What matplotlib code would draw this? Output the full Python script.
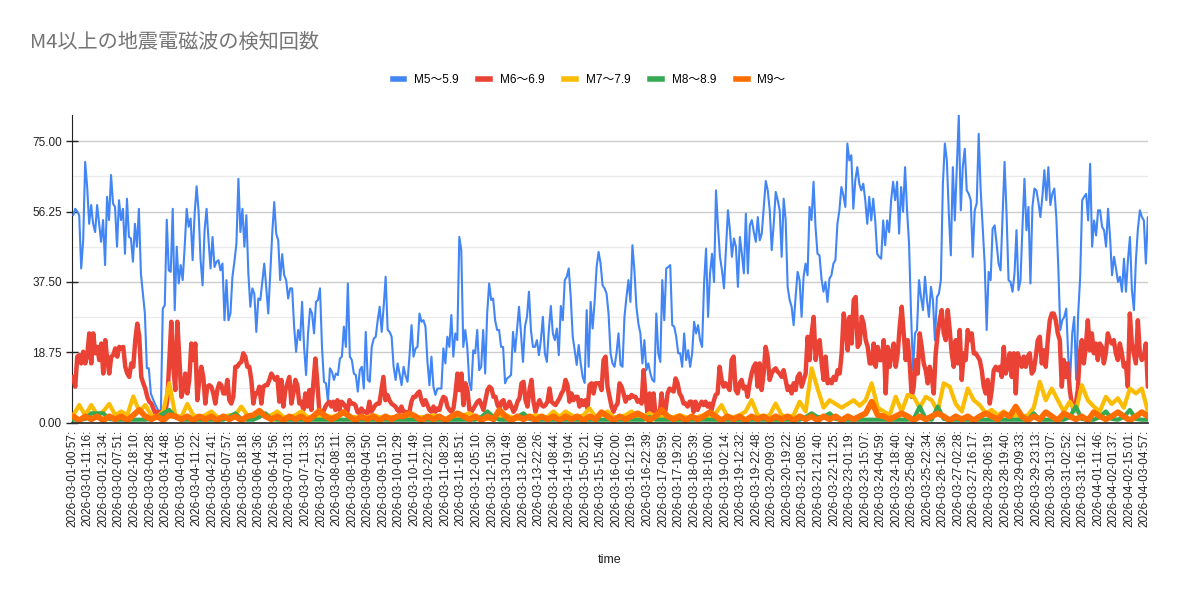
import numpy as np
import matplotlib
matplotlib.use("Agg")
from matplotlib import pyplot as plt
from matplotlib.lines import Line2D
from matplotlib.ticker import MultipleLocator

# x軸ラベル（Google チャート上の表示のまま）
time_labels = [
    "2026-03-01-00:57:", "2026-03-01-11:16:", "2026-03-01-21:34:", "2026-03-02-07:51:",
    "2026-03-02-18:10:", "2026-03-03-04:28:", "2026-03-03-14:48:", "2026-03-04-01:05:",
    "2026-03-04-11:22:", "2026-03-04-21:41:", "2026-03-05-07:57:", "2026-03-05-18:18:",
    "2026-03-06-04:36:", "2026-03-06-14:56:", "2026-03-07-01:13:", "2026-03-07-11:33:",
    "2026-03-07-21:53:", "2026-03-08-08:11:", "2026-03-08-18:30:", "2026-03-09-04:50:",
    "2026-03-09-15:10:", "2026-03-10-01:29:", "2026-03-10-11:49:", "2026-03-10-22:10:",
    "2026-03-11-08:29:", "2026-03-11-18:51:", "2026-03-12-05:10:", "2026-03-12-15:30:",
    "2026-03-13-01:49:", "2026-03-13-12:08:", "2026-03-13-22:26:", "2026-03-14-08:44:",
    "2026-03-14-19:04:", "2026-03-15-05:21:", "2026-03-15-15:40:", "2026-03-16-02:00:",
    "2026-03-16-12:19:", "2026-03-16-22:39:", "2026-03-17-08:59:", "2026-03-17-19:20:",
    "2026-03-18-05:39:", "2026-03-18-16:00:", "2026-03-19-02:14:", "2026-03-19-12:32:",
    "2026-03-19-22:48:", "2026-03-20-09:03:", "2026-03-20-19:22:", "2026-03-21-08:05:",
    "2026-03-21-21:40:", "2026-03-22-11:25:", "2026-03-23-01:19:", "2026-03-23-15:07:",
    "2026-03-24-04:59:", "2026-03-24-18:40:", "2026-03-25-08:42:", "2026-03-25-22:34:",
    "2026-03-26-12:36:", "2026-03-27-02:28:", "2026-03-27-16:17:", "2026-03-28-06:19:",
    "2026-03-28-19:40:", "2026-03-29-09:33:", "2026-03-29-23:13:", "2026-03-30-13:07:",
    "2026-03-31-02:52:", "2026-03-31-16:12:", "2026-04-01-11:46:", "2026-04-02-01:37:",
    "2026-04-02-15:01:", "2026-04-03-04:57:",
]

series_names = ["M5〜5.9", "M6〜6.9", "M7〜7.9", "M8〜8.9", "M9〜"]

m5 = [
    55.3, 57, 56.3, 55.3, 41.1, 48.6, 69.5, 62.8, 53, 58,
    53, 50.8, 58, 53, 48.2, 54, 42, 60.2, 54, 66,
    58.4, 57.5, 46.9, 59.3, 54, 57, 45, 59.7, 49.5, 49.1,
    42.9, 53, 46.9, 57, 39.8, 34.5, 29.1, 14.5, 14.5, 7.8, 6.4, 5.1, 4, 2.9, 2,
    30.4, 31.3, 54.1, 40.6, 40.2, 57, 30, 46.9,
    37.1, 42, 38, 46.9, 57, 52.2, 54.4, 43.3, 55.7, 63,
    56.2, 43.3, 36.6, 51.3, 57, 48.6, 41.1, 49.5, 41.5, 42.9,
    43.3, 40.6, 42.4, 27.3, 38, 27.3, 29.1, 38.9, 43, 47.7, 65,
    50.8, 57, 46.9, 55.3, 39.8, 30.9, 35.8, 34.4, 24.2, 33.1,
    32.7, 37.5, 42.4, 36, 29.1, 40, 50.4, 58.8, 50.4, 48.6, 38, 44.9, 39.3,
    38, 33.1, 35.8, 35.8, 25.6, 18.9, 24.7, 22, 32.2, 20.2,
    12.7, 23.8, 30.4, 29.1, 23.8, 32.2, 32.7, 35.8, 20.2, 10.9,
    10.5, 5.6, 14.5, 13.6, 11.4, 13.1, 12.7, 17.1,
    17.6, 25.6, 20.2, 37.1, 17.6, 16.7, 13.1, 12.7, 8.3, 14,
    14.9, 9.1, 24.2, 11.4, 10.9, 20.2, 22.4, 22.9, 27.3, 30.9,
    24.2, 31, 38.9, 24.7, 24.2, 22.9, 14.9, 11.4, 15.8, 13, 10, 14.9, 12.5, 10.9, 18,
    26, 17.6, 19.8, 20.2, 29.1, 26.9, 27.3, 25.6, 16.2,
    10, 17.6, 9.6, 7.4, 9.1, 9.1, 9.1, 19.8, 15.8, 22.9, 20.2,
    28.7, 17.6, 23.8, 22, 49.5, 46, 20.2, 24.7, 20.2, 10.9,
    8.7, 19.3, 18.5, 24.7, 14, 14.9, 24.7, 13.1, 29.1, 37.1,
    32.7, 33.1, 27.3, 24.7, 24.7, 20.2, 20.2, 10.5, 11.8, 12.2,
    12.7, 24.2, 18.9, 24.7, 30.9, 23.8, 16.2, 25.6, 28.2, 34.9,
    24.7, 20.2, 20.2, 22, 18, 22, 28.2, 18.5, 16.2, 24.7,
    31.1, 23.8, 22, 25.1, 18, 31.1, 27.3, 38, 38.9, 41.1,
    33.5, 22.9, 19.3, 15.4, 20.7, 15.8, 12.2, 10.6, 30, 14.9,
    32.2, 25.1, 32.2, 41.5, 45.5, 42.4,
    36.6, 35.8, 34.4, 29.1, 18.5, 15.8, 14.9, 18.5, 23.8, 15.4,
    14.9, 28.2, 33.5, 38, 32.2, 47.3, 40.6,
    30.9, 26.4, 23.8, 15.8, 22, 14, 15.8, 13.1, 11.4, 10.9,
    29.1, 18.5, 16.2, 38, 27.3, 41.1, 41.5, 42, 26, 25.6,
    22.9, 18.5, 18.5, 14.9, 23.8, 16.7, 19.3, 14.9,
    18.5, 26.9, 23.8, 26, 22, 20.2, 37.1, 46.4, 28.2, 39.8,
    45, 37.5, 61.9, 52.2, 44.2, 40.6, 35.8, 46, 56.6, 51.3,
    44.2, 49.1, 46.9, 36.2, 49.5, 45, 39.8, 55.7, 39.8, 52.6,
    54, 50.8, 48.2, 54.8, 48.6, 50.4, 57.5, 64.4, 61.9, 56.6,
    46, 53, 61.5, 59.3, 56.6, 44.2, 59.7, 54, 36.2, 32.7,
    30.9, 26, 33.5, 40.2, 38, 28.2, 38.9, 42.4, 39.3, 57.5,
    54, 64.2, 52.2, 45, 44.6, 38.4, 34.9, 37.5, 32.2, 38.4,
    39.3, 42.4, 43.3, 53, 56.6, 62.8, 60.6, 57.5, 74.4,
    69.9, 71.3, 57, 64.6, 68.1, 63.7, 61.9, 63.7, 59.3, 53,
    60.2,
    53.9, 59.7, 53.9, 45, 44.2, 43.7, 53.9, 47.3, 53.9, 50.8,
    59.3, 64.2, 59.3, 64.2, 50.4, 62.8, 56.2, 68.1, 56.6,
    47.7, 29.1, 14, 23.8, 24.7, 38, 33.5, 30, 38.9, 32.7,
    28.2, 36.2, 32.7, 22, 33.5, 34.4, 38, 63.7, 74.4, 69.9,
    55.7, 44.6, 68.1, 53.9, 68.1, 81.9, 56.6, 68.1, 73, 61.9,
    61, 59.3, 44.2, 56.6, 58.4, 77, 61.9, 52.2, 42.4,
    24.7, 40.2, 38, 51.7, 52.6, 47.7, 42.4, 40.6, 54.8,
    69.5, 55.7, 38, 37.5, 34.9, 39.8, 51.3, 35.3, 38, 52.2,
    65, 51.3, 57.5, 37.1, 57.5, 62.4, 61.9, 58.8, 54.8,
    60.2, 67.3, 59.3, 68.1, 58, 61, 62.4, 54.8, 41.5, 24.7,
    27.3, 28.2, 30.4, 17.6, 12.2, 23.8, 28.2, 11.4, 29.1, 38.9,
    59.3, 60.2, 61, 53.9, 69, 46.9, 53.9, 49.9, 56.6,
    56.6, 52.2, 51.3, 46.9, 57, 49.5, 39.3, 44.2, 41.1, 37.5,
    38.9, 34.9, 43.7, 34.9, 43.3, 49.5, 35.3, 30, 43.3, 51.7,
    56.6, 54.8, 53.9, 42.4, 54.8,
]

m6 = [
    12.2, 9.6, 17.6, 18, 15.8, 18.9, 15.8, 18, 23.8, 15.8,
    23.8, 18.5, 20.2, 16.7, 21.1, 13.1, 22, 16.7, 13.1, 17.6,
    18, 19.8, 17.6, 20.2, 19.8, 20.2, 14.9, 13.1, 12.2, 15.8,
    14.9, 22, 26.4, 22.9, 12.2, 10.5, 9.1, 6.9, 5.6, 5.1,
    3.8, 2.5, 2.9, 2.9, 2, 2, 2.9, 6, 16.7, 26.9,
    14.9, 8.7, 26.9, 17.6, 6.9, 8.7, 13.1, 7.8, 11.4, 21.1,
    16.7, 21.1, 6, 11.4, 14.9, 12.2, 5.1, 9.6, 10, 9.6,
    7.8, 5.1, 8.7, 10.5, 10, 7.8, 7.8, 11.4, 6, 5.1,
    6.9, 14.9, 14.9, 15.8, 16.2, 18.5, 17.6, 14.9, 14.9, 11.4,
    5.1, 7.8, 7.8, 9.6, 5.1, 9.6, 10, 10, 11.4, 13.1,
    12.2, 11.4, 12.2, 5.6, 11.4, 4.3, 8.7, 10.5, 12.2, 5.1,
    7.8, 11.4, 10, 5.1, 5.6, 3.4, 7.8, 4.3, 8.7, 3.4,
    10.5, 17.1, 10.5, 2.9, 2, 2.9, 4.3, 5.1, 5.6,
    4.3, 5.6, 3.4, 6, 3.4, 5.6, 5.1, 4.3, 2.9, 6,
    5.1, 5.1, 4.7, 2.9, 2.5, 3.8, 2.9, 2.9, 2.5, 5.6,
    2.9, 3.8, 4.7, 5.1, 5.1, 8.7, 12.2, 6, 7.4, 6,
    5.1, 4.7, 4.3, 3.4, 2.9, 4.3, 2.9, 2.9, 2.5, 2.9,
    5.6, 6.9, 6.9, 7.8, 8.3, 6, 4.7, 6, 4.7, 3.4,
    2.9, 4.3, 2.9, 3.8, 3.4, 5.6, 6.9, 6.5, 4.3, 3.4,
    2.9, 3.8, 7.8, 13.1, 8.7, 13.1, 4.7, 10.5, 8.7, 3.4,
    2.9, 3.8, 4.7, 5.6, 6, 4.7, 3.4, 6, 8.7, 9.6,
    9.1, 6.9, 6.9, 4.7, 3.8, 5.6, 6, 3.8, 4.3, 5.6,
    4.3, 2.9, 3.8, 5.6, 6.5, 10.5, 10.9, 6, 4.3, 8.7,
    11.4, 5.6, 2.9, 4.7, 6, 4.7, 4.3, 4.7, 5.6, 9.1,
    5.6, 5.1, 4.7, 5.6, 6.5, 7.8, 8.7, 11.4, 10, 5.6,
    7.8, 6, 6.9, 6.9, 4.3, 6, 4.7, 6, 3.8, 10,
    10.5, 7.8, 10.5, 10.5, 10.5,
    8.7, 16.7, 17.6, 9.6, 6.9, 4.3, 2.9, 4.3, 5.1, 10.5,
    9.6, 7.8, 5.6, 6.9, 6.5, 7.4, 6.9, 6.9, 5.6, 6,
    5.1, 14, 6.9, 2.5, 7.8, 2.5, 7.8, 2, 2.9, 2,
    7.8, 2.5, 3.4, 7.8, 9.1, 8.7, 8.3, 11.8, 10.5, 7.8,
    6.9, 5.1, 5.1, 4.3, 5.6, 5.6, 2.9, 5.6, 3.4, 4.7,
    5.6, 4.7, 5.6, 4.3, 5.1, 3.4, 5.6, 7.4, 7.8, 14.9,
    11.4, 9.6, 10.5, 9.6, 8.7, 16.7, 17.6, 8.7, 7.8, 10.5,
    11.4, 9.1, 9.6, 6.9, 10.5, 13.1, 14.9, 15.8, 9.6, 15.8,
    8.7, 13.1, 20.2, 17.6, 11.4, 13.1, 14, 14.5, 13.6, 13.1,
    12.2, 14, 11.4, 8.7, 9.6, 7.8, 10.5, 8.7, 12.2, 13.1,
    9.6, 11.4, 13.1, 22.9, 16.7, 23.8, 28.2, 16.7, 21.1, 22,
    15.8, 11.4, 17.6, 10.5, 11.4, 10.5, 12.2, 11.4, 14, 13.1,
    18.5, 29.1, 25.6, 19.3, 28.2, 21.1, 32.7, 33.5, 20.2, 21.1,
    28.2, 26.4, 22, 20.2, 15.8,
    15.8, 21.1, 14.9, 20.2, 16.7, 16.7, 22, 7.8, 20.2, 14.9,
    18.5, 21.1, 14.9, 18.5, 25.6, 30.9, 23.8, 16.7, 22, 15.8,
    6.9, 9.6, 16.7, 13.1, 23.8, 20.2, 15.8, 14, 10.5, 14.9,
    12.2, 7.8, 18.5, 23.8, 27.3, 30, 23.8, 22, 30, 24.7,
    18.5, 14.9, 22, 15.8, 24.7, 11.4, 18.5, 16.7, 24.7, 22,
    23.8, 18.5, 18.5, 17.6, 16.7, 14, 9.6, 7.8, 11.4, 5.1,
    8.7, 14, 14.9, 14, 14.9, 12.2, 20.2, 13.1, 14.9, 18.5,
    12.2, 18.5, 7.8, 18.5, 16.7, 14.9, 17.6, 14.9, 17.6, 18.5,
    13.1, 14, 17.6, 22, 22.9, 15.8, 19.3, 14.9, 22, 27.3,
    29.1, 29.1, 27.3, 23.8, 22, 9.6, 16.7, 12.2, 15.8, 8.7,
    5.1, 3.4, 5.1, 8.7, 18.5, 22, 15.8, 20.2, 27.3, 19.3,
    23.8, 18.5, 21.1, 16.7, 21.1, 20.2, 15.8, 18.5, 23.8, 22,
    21.1, 22, 18.5, 16.7, 21.1, 18.5, 14.9, 15.8, 9.6, 29.1,
    21.1, 18.5, 15.8, 27.3, 18.5, 16.7, 17.6, 21.1, 9.6,
]

m7 = [
    2, 4.7, 2, 4.7, 2, 3, 5, 2, 3, 2,
    7, 3, 4.7, 2, 1.5, 3, 10.5, 2, 1.5, 5,
    2, 1.5, 2, 3, 1.5, 1.5, 2, 2, 4.3, 2,
    1.5, 3, 1.5, 2, 3, 1.5, 1.5, 2, 3, 1.5,
    1.5, 1.5, 2, 1.5, 2, 3, 1.5,
    1.5, 1, 1.5, 2, 1.5, 1, 1.5, 1.5, 2, 1.5, 1, 1.5, 1.5, 2, 1.5, 1, 1.5, 1.5,
    2, 2.5, 1.5,
    1.5, 1, 1.5, 1.5, 2, 1.5, 1, 1.5, 1.5, 2, 1.5, 1.5,
    3, 1.5, 3, 2, 1.5, 2, 3.8, 1.5, 2, 3,
    1.5, 1.5, 2, 3, 1.5, 1.5, 2.5, 1.5,
    1.5, 1, 1.5, 2, 1.5, 1, 1.5, 2, 1.5,
    2.5, 4.7, 1.5, 1.5, 2, 3, 6, 2, 1.5, 2,
    5.1, 2, 1.5, 2, 5.6, 3, 14.5, 9, 4, 6,
    5, 4, 5, 6, 4.5, 6, 10.5, 4, 3, 2,
    6.9, 3, 7.4, 6.9, 4, 6.9, 6, 3, 10.5, 9.6,
    5, 3, 9.1, 6, 4.7, 2.5, 3.4, 2, 3, 1.5,
    2, 1.5, 2, 4, 10.9, 6, 9.1, 6, 3, 5.6,
    3, 10, 6, 4.3, 3, 6.9, 5, 6.5, 4, 9.1,
    7.8, 9.1, 3,
]

m8 = [
    0.8, 0.8, 1, 2.5, 2.5, 2.5, 1, 0.8, 0.8, 0.8,
    0.8, 0.8, 0.8, 1, 1.5, 2.5, 3.4, 1.5, 0.8, 0.8,
    0.8, 0.8, 0.8, 0.8, 0.8, 0.8, 1.5, 2.5, 1, 0.8,
    0.8, 1.5, 2.5, 1, 0.8, 0.8, 0.8, 0.8, 0.8, 0.8,
    0.8, 0.8, 0.8, 0.8, 0.8, 0.8, 0.8, 0.8, 0.8, 0.8,
    0.8, 0.8, 0.8, 0.8, 0.8, 0.8, 0.8, 0.8, 0.8, 0.8,
    0.8, 0.8, 0.8, 0.8, 0.8, 0.8, 0.8, 0.8, 1.5, 3,
    1.5, 0.8, 0.8, 0.8, 1.5, 2.5, 1, 0.8, 0.8, 0.8,
    0.8, 0.8, 0.8, 0.8, 0.8, 0.8, 0.8, 0.8, 0.8, 0.8,
    0.8, 0.8, 0.8, 0.8, 0.8, 0.8, 1.5, 0.8, 0.8, 0.8,
    0.8, 0.8, 0.8, 0.8, 0.8, 0.8, 0.8, 0.8, 0.8, 0.8,
    0.8, 0.8, 0.8, 0.8, 0.8, 0.8, 0.8, 0.8, 0.8, 0.8,
    0.8, 0.8, 1.5, 2.5, 1.5, 1.5, 2.5, 1, 0.8, 0.8,
    0.8, 0.8, 0.8, 0.8, 0.8, 0.8, 0.8, 0.8, 0.8, 0.8,
    1, 4.3, 1, 0.8, 4.3, 1, 0.8, 0.8, 0.8, 0.8,
    0.8, 0.8, 0.8, 0.8, 0.8, 0.8, 0.8, 0.8, 0.8, 0.8,
    2.5, 0.8, 0.8, 0.8, 0.8, 0.8, 1.5, 4.3, 1, 0.8,
    0.8, 1.5, 3, 1, 0.8, 1.5, 3.4, 1, 0.8, 0.8,
]

m9 = [
    1.7, 0.6, 1.7, 0.9, 1.7, 0.6, 1.7, 0.9, 1.7, 0.6,
    2, 3.4, 1.7, 0.9, 1.7, 0.6, 2, 1.7, 0.9, 1.7,
    0.6, 1.7, 0.9, 1.7, 0.6, 1.7, 0.9, 1.7, 0.6, 1.7,
    2, 3.2, 1.7, 0.9, 1.7, 0.6, 1.7, 0.9, 1.7, 0.6,
    1.7, 3.2, 1.7, 0.9, 1.7, 2.8, 1.7, 0.6, 1.7, 0.9,
    1.7, 0.6, 1.7, 0.9, 1.7, 1.7, 2.5, 1.7, 0.6, 1.7,
    0.9, 1.7, 0.6, 1.7, 2.5, 1.7, 0.9, 1.7, 0.6, 1.7,
    0.9, 3.4, 1.7, 0.6, 1.7, 0.9, 1.7, 0.6, 1.7, 0.9,
    1.7, 0.6, 1.7, 0.9, 1.7, 0.6, 1.7, 0.9, 2.8, 1.7,
    0.6, 1.7, 0.9, 1.7, 2.5, 1.7, 0.6, 1.7, 3.4, 1.7,
    0.9, 1.7, 0.6, 1.7, 0.9, 1.7, 2.8, 1.7, 0.6, 1.7,
    0.9, 1.7, 0.6, 1.7, 0.9, 1.7, 0.6, 1.7, 0.9, 1.7,
    0.6, 1.7, 0.9, 1.7, 0.6, 1.7, 0.9, 1.7, 0.6, 1.7,
    0.9, 1.7, 2.5, 5.6, 2, 1.7, 0.9, 1.7, 2.5, 1.7,
    0.6, 1.7, 0.9, 1.7, 2.5, 1.7, 0.6, 1.7, 0.9, 1.7,
    0.6, 1.7, 2.5, 1.7, 0.9, 2.5, 1.7, 4.3, 1.7, 0.6,
    1.7, 0.9, 2.8, 1.7, 0.6, 2.5, 1.7, 0.9, 1.7, 0.6,
    2.8, 1.7, 0.9, 1.7, 2.8, 1.7, 0.6, 1.7, 2.8, 1.7,
]

colors = ["#4285F4", "#EA4335", "#FBBC04", "#34A853", "#FF6D01"]
widths = [1.5, 3.2, 3.0, 3.0, 4.2]

LATIN_CJK = ["Liberation Sans", "Noto Sans CJK JP"]

fig = plt.figure(figsize=(11.78, 5.98), dpi=100)
ax = fig.add_axes([72.3 / 1178, 1 - 422.7 / 598, (1148 - 72.3) / 1178, (422.7 - 115) / 598])

x_first, x_last = 0.06, 69.19
for vals, c, lw in zip([m5, m6, m7, m8, m9], colors, widths):
    xs = np.linspace(x_first, x_last, len(vals))
    ax.plot(xs, vals, color=c, lw=lw, solid_joinstyle="round", solid_capstyle="round", zorder=3)

ax.set_xlim(0, 69.2)
ax.set_ylim(0, 82)

# y軸
ax.yaxis.set_minor_locator(MultipleLocator(9.375))
ax.set_yticks([0, 18.75, 37.5, 56.25, 75])
ax.set_yticklabels(["0.00", "18.75", "37.50", "56.25", "75.00"])
ax.grid(axis="y", which="major", color="#cccccc", lw=1, zorder=0)
ax.grid(axis="y", which="minor", color="#ebebeb", lw=1, zorder=0)
ax.tick_params(axis="y", which="major", direction="inout", length=9, width=1, color="#222222",
               labelsize=8.5, labelcolor="#222222", pad=3)
ax.tick_params(axis="y", which="minor", length=0)

# x軸
ax.set_xticks(np.arange(len(time_labels)))
ax.set_xticklabels(time_labels, rotation=90, fontsize=8.5, color="#222222", family="Liberation Sans")
ax.tick_params(axis="x", length=0, pad=5)
for lab in ax.get_yticklabels():
    lab.set_family("Liberation Sans")

for side in ["top", "right"]:
    ax.spines[side].set_visible(False)
ax.spines["left"].set_color("#222222")
ax.spines["bottom"].set_color("#333333")
ax.spines["bottom"].set_linewidth(1.3)
ax.spines["bottom"].set_zorder(4)

fig.text(30 / 1178, 1 - 42 / 598, "M4以上の地震電磁波の検知回数", fontsize=14.5, color="#757575",
         va="center", ha="left", family=["Noto Sans CJK JP"])
fig.text(610 / 1178, 1 - 560 / 598, "time", fontsize=9, color="#222222", ha="center", va="center",
         family="Liberation Sans")

handles = [Line2D([], [], color=c, lw=4) for c in colors]
fig.legend(handles, series_names, loc="center", bbox_to_anchor=(0.5, 1 - 80 / 598), ncol=5,
           frameon=False, handlelength=1.0, handletextpad=0.8, columnspacing=1.7,
           prop={"family": LATIN_CJK, "size": 8.5})

fig.savefig("out.png", dpi=100)
